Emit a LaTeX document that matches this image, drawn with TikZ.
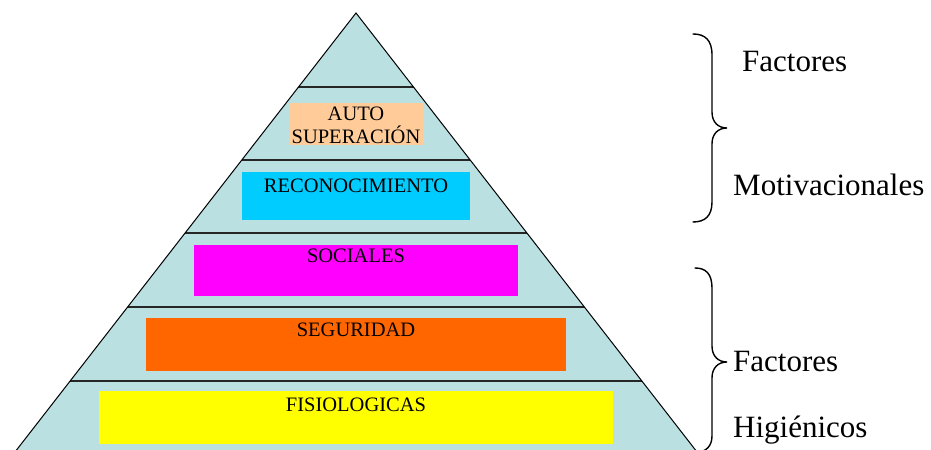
\documentclass[tikz,border=0pt]{standalone}
\usepackage{fontspec}
\setmainfont{Liberation Serif}
\definecolor{pyrfill}{RGB}{186,224,226}
\definecolor{peach}{RGB}{255,204,153}
\definecolor{skycyan}{RGB}{0,204,255}
\definecolor{magen}{RGB}{255,0,255}
\definecolor{orng}{RGB}{255,102,0}
\definecolor{yell}{RGB}{255,255,0}
\tikzset{
  levelbox/.style={draw=none, inner sep=0pt, outer sep=0pt},
  boxlabel/.style={anchor=base, inner sep=0pt, font=\fontsize{20.5bp}{23.5bp}\selectfont, align=center},
  sidelabel/.style={anchor=base west, inner sep=0pt, font=\fontsize{31bp}{36bp}\selectfont},
  levelline/.style={line width=2.2bp, draw=black!85},
  bracestyle/.style={line width=1.4bp, draw=black, line cap=round}
}
\begin{document}
\begin{tikzpicture}[x=1bp,y=-1bp]
\useasboundingbox (0,0) rectangle (931,450);
% pyramid
\coordinate (apex) at (356,13);
\coordinate (bl) at (1,470);
\coordinate (br) at (711,470);
\fill[pyrfill] (apex) -- (bl) -- (br) -- cycle;
\begin{scope}
  \clip (apex) -- (bl) -- (br) -- cycle;
  \foreach \yy in {87,160,233,307,381} {
    \draw[levelline] (0,\yy) -- (931,\yy);
  }
\end{scope}
\draw[line width=1bp] (bl) -- (apex) -- (br);
% boxes
\node[levelbox, fill=peach, minimum width=133bp, minimum height=42bp] (auto) at (356.5,124) {};
\node[levelbox, fill=skycyan, minimum width=228bp, minimum height=48bp] (reco) at (356,196.5) {};
\node[levelbox, fill=magen, minimum width=324bp, minimum height=51bp] (soc) at (356,270.5) {};
\node[levelbox, fill=orng, minimum width=420bp, minimum height=53bp] (seg) at (356,344.5) {};
\node[levelbox, fill=yell, minimum width=514bp, minimum height=53bp] (fis) at (356,417.5) {};
% labels
\node[boxlabel] (tauto) at (356,121) {AUTO};
\node[boxlabel] (tsuper) at (356,144) {SUPERACIÓN};
\node[boxlabel] (treco) at (356,193) {RECONOCIMIENTO};
\node[boxlabel] (tsoc) at (356,263) {SOCIALES};
\node[boxlabel] (tseg) at (356,337) {SEGURIDAD};
\node[boxlabel] (tfis) at (356,411) {FISIOLOGICAS};
% braces
\coordinate (b1top) at (693,34);
\coordinate (b1tip) at (727,128);
\coordinate (b1bot) at (693,222);
\draw[bracestyle] (b1top) .. controls (705,34) and (712,40) .. (712,55) -- (712,112)
  .. controls (712,122) and (718,128) .. (b1tip)
  .. controls (718,128) and (712,134) .. (712,144) -- (712,202)
  .. controls (712,216) and (705,222) .. (b1bot);
\coordinate (b2top) at (695,268);
\coordinate (b2tip) at (727,362);
\coordinate (b2bot) at (697,452);
\draw[bracestyle] (b2top) .. controls (706,268) and (712,274) .. (712,288) -- (712,346)
  .. controls (712,356) and (718,362) .. (b2tip)
  .. controls (718,362) and (712,368) .. (712,378) -- (712,436)
  .. controls (712,446) and (706,452) .. (b2bot);
% side labels
\node[sidelabel] (f1) at (742,72) {Factores};
\node[sidelabel] (m1) at (733,196) {Motivacionales};
\node[sidelabel] (f2) at (733,372) {Factores};
\node[sidelabel] (h2) at (733,437) {Higiénicos};
\end{tikzpicture}
\end{document}
